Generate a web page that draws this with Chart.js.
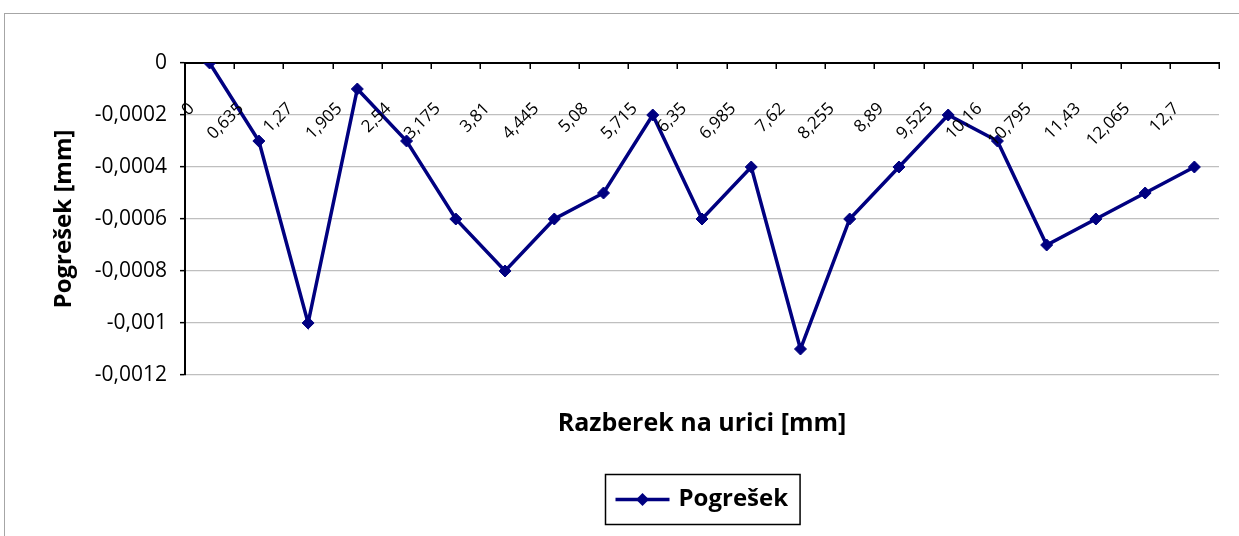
<!DOCTYPE html>
<html>
<head>
<meta charset="utf-8">
<script src="https://cdn.jsdelivr.net/npm/chart.js@4"></script>
<style>
  html, body { margin: 0; padding: 0; background: #fff; }
  #wrap { position: relative; width: 1239px; height: 536px; }
</style>
</head>
<body>
<div id="wrap"><canvas id="chart"></canvas></div>
<script>
// data
var categories = ["0", "0,635", "1,27", "1,905", "2,54", "3,175", "3,81", "4,445", "5,08", "5,715",
  "6,35", "6,985", "7,62", "8,255", "8,89", "9,525", "10,16", "10,795", "11,43", "12,065", "12,7"];
var pogresek = [0, -0.0003, -0.001, -0.0001, -0.0003, -0.0006, -0.0008, -0.0006, -0.0005, -0.0002,
  -0.0006, -0.0004, -0.0011, -0.0006, -0.0004, -0.0002, -0.0003, -0.0007, -0.0006, -0.0005, -0.0004];
var yTickValues = [0, -0.0002, -0.0004, -0.0006, -0.0008, -0.001, -0.0012];

var seriesName = "Pogrešek";
var xTitle = "Razberek na urici [mm]";
var yTitle = "Pogrešek [mm]";

var NAVY = "#000080";
var FONT = "'Open Sans', Lato, sans-serif";

function fmt(v) {
  var n = Number(v.toFixed(4));
  if (n === 0) return "0";
  return String(n).replace(".", ",");
}

function drawDiamond(ctx, x, y, r) {
  ctx.beginPath();
  ctx.moveTo(x, y - r);
  ctx.lineTo(x + r, y);
  ctx.lineTo(x, y + r);
  ctx.lineTo(x - r, y);
  ctx.closePath();
  ctx.fill();
}

// excel-ish extras: frame, top axis with inside ticks, slanted labels, x title, boxed legend
var excelBits = {
  id: "excelBits",
  beforeDraw: function (chart) {
    var ctx = chart.ctx;
    ctx.save();
    ctx.strokeStyle = "#a6a6a6";
    ctx.lineWidth = 1;
    ctx.strokeRect(4.5, 13.5, 1400, 700);
    ctx.restore();
  },
  beforeDatasetsDraw: function (chart) {
    var ctx = chart.ctx, a = chart.chartArea;
    var n = categories.length, step = (a.right - a.left) / n;
    ctx.save();
    ctx.strokeStyle = "#000";
    ctx.lineWidth = 2;
    ctx.beginPath();
    ctx.moveTo(a.left - 1, a.top);
    ctx.lineTo(a.right + 1, a.top);
    ctx.stroke();
    ctx.lineWidth = 1.5;
    for (var i = 1; i <= n; i++) {
      var x = Math.round(a.left + i * step) + 0.25;
      ctx.beginPath();
      ctx.moveTo(x, a.top);
      ctx.lineTo(x, a.top + 6);
      ctx.stroke();
    }
    ctx.restore();
  },
  afterDatasetsDraw: function (chart) {
    var ctx = chart.ctx, a = chart.chartArea, xs = chart.scales.x;
    ctx.save();
    ctx.fillStyle = "#000";
    ctx.font = "17px " + FONT;
    ctx.textAlign = "right";
    ctx.textBaseline = "middle";
    for (var i = 0; i < categories.length; i++) {
      var x = xs.getPixelForValue(i);
      ctx.save();
      ctx.translate(x - 18, a.top + 43);
      ctx.rotate(-Math.PI / 4);
      ctx.fillText(categories[i], 0, 0);
      ctx.restore();
    }

    var cx = (a.left + a.right) / 2;
    ctx.font = "bold 25px " + FONT;
    ctx.textAlign = "center";
    ctx.fillText(xTitle, cx, 424);

    // legend
    ctx.font = "bold 24px " + FONT;
    var tw = ctx.measureText(seriesName).width;
    var w = 10 + 54 + 9 + tw + 12, h = 50;
    var lx = Math.round(cx - w / 2) + 0.5, ly = 474.5;
    ctx.strokeStyle = "#000";
    ctx.lineWidth = 1.5;
    ctx.strokeRect(lx, ly, w, h);
    var my = ly + h / 2;
    ctx.strokeStyle = NAVY;
    ctx.lineWidth = 3.5;
    ctx.beginPath();
    ctx.moveTo(lx + 10, my);
    ctx.lineTo(lx + 64, my);
    ctx.stroke();
    ctx.fillStyle = NAVY;
    drawDiamond(ctx, lx + 37, my, 6.5);
    ctx.fillStyle = "#000";
    ctx.textAlign = "left";
    ctx.fillText(seriesName, lx + 73, my);
    ctx.restore();
  }
};

var ctx = document.getElementById("chart").getContext("2d");
new Chart(ctx, {
  type: "line",
  data: {
    labels: categories,
    datasets: [{
      label: seriesName,
      data: pogresek,
      borderColor: NAVY,
      backgroundColor: NAVY,
      borderWidth: 3.5,
      tension: 0,
      pointStyle: "rectRot",
      pointRadius: 6,
      pointBorderWidth: 1,
      pointBackgroundColor: NAVY,
      pointBorderColor: NAVY
    }]
  },
  options: {
    responsive: true,
    maintainAspectRatio: false,
    animation: false,
    layout: { padding: { left: 0, top: 63, right: 20, bottom: 161 } },
    plugins: { legend: { display: false }, tooltip: { enabled: false } },
    scales: {
      x: { type: "category", display: false, offset: true },
      y: {
        position: "left",
        min: -0.0012,
        max: 0,
        afterBuildTicks: function (s) {
          s.ticks = yTickValues.map(function (v) { return { value: v }; });
        },
        afterFit: function (s) { s.width = 185; },
        ticks: {
          padding: 13,
          color: "#000",
          font: { family: FONT, size: 21 },
          callback: function (v) { return fmt(v); }
        },
        grid: { color: "#bfbfbf", lineWidth: 1.3, tickColor: "#000", tickLength: 5, tickWidth: 1.5 },
        border: { color: "#000", width: 2 },
        title: {
          display: true,
          text: yTitle,
          color: "#000",
          font: { family: FONT, size: 24, weight: "bold" },
          padding: { top: 50, bottom: 0 }
        }
      }
    }
  },
  plugins: [excelBits]
});
</script>
</body>
</html>
